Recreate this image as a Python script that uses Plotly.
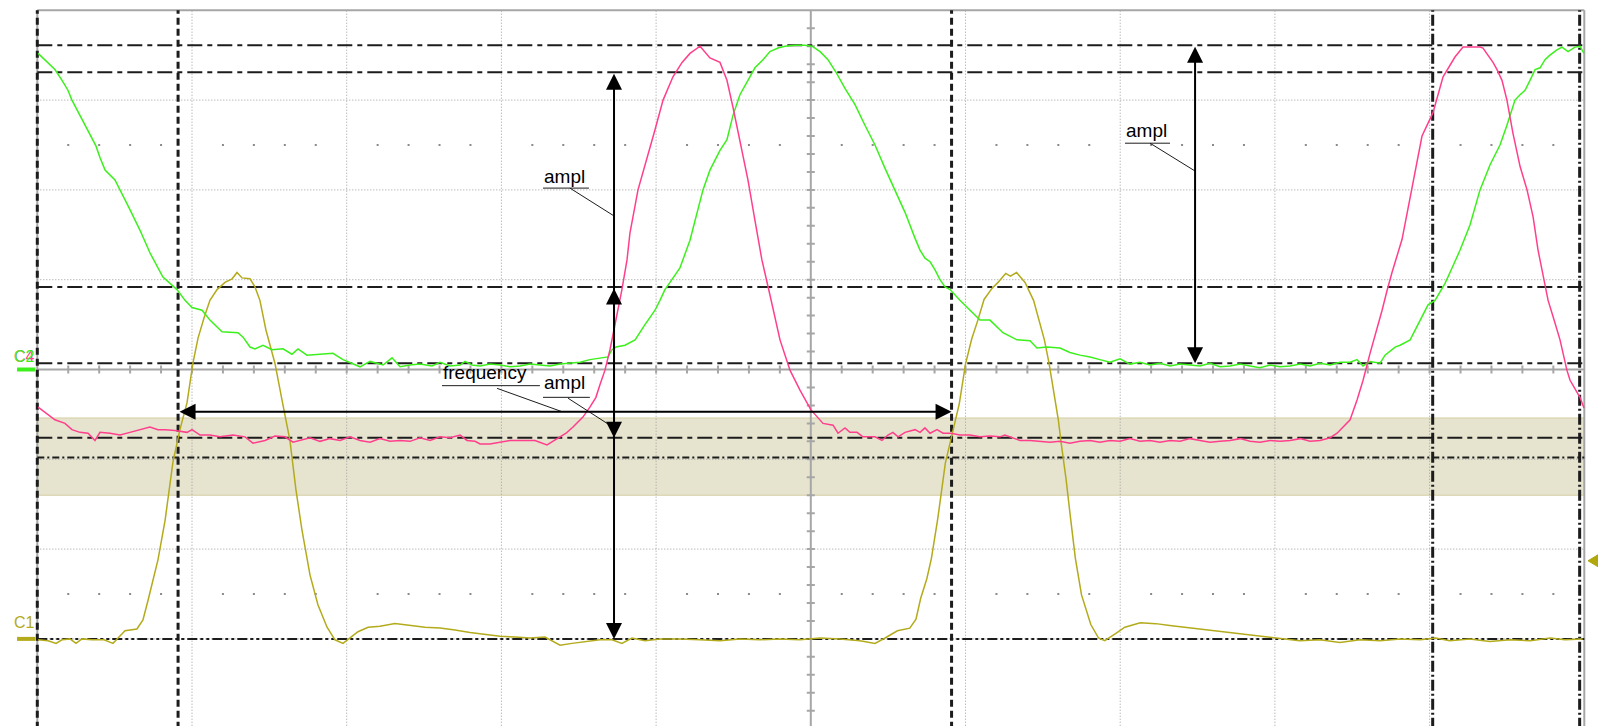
import plotly.graph_objects as go

# ---------------------------------------------------------------
# Scope screen: 10 x 8 divisions. Time and amplitude are given in
# divisions (x: 0..10, y: -4..+4, centre line at 0).
# ---------------------------------------------------------------

# C1 (yellow)
c1_t = [0.005, 0.069, 0.121, 0.160, 0.211, 0.250, 0.289, 0.354, 0.431, 0.489, 0.522, 0.567, 0.644, 0.683,
        0.716, 0.748, 0.780, 0.826, 0.877, 0.922, 0.968, 1.006, 1.039, 1.077, 1.116, 1.162, 1.213, 1.259,
        1.291, 1.323, 1.375, 1.407, 1.439, 1.478, 1.504, 1.536, 1.582, 1.633, 1.672, 1.711, 1.763, 1.814,
        1.873, 1.924, 1.976, 2.021, 2.073, 2.138, 2.215, 2.312, 2.409, 2.506, 2.603, 2.700, 2.797, 2.894,
        2.991, 3.088, 3.185, 3.282, 3.379, 3.456, 3.540, 3.637, 3.715, 3.779, 3.844, 3.928, 4.025, 4.154,
        4.284, 4.413, 4.542, 4.672, 4.801, 4.930, 5.060, 5.189, 5.318, 5.415, 5.480, 5.56, 5.64, 5.68,
        5.71, 5.75, 5.78, 5.82, 5.87, 5.92, 5.96, 6.00, 6.04, 6.08, 6.12, 6.17, 6.21, 6.26, 6.29, 6.33,
        6.385, 6.44, 6.48, 6.51, 6.54, 6.57, 6.60, 6.62, 6.65, 6.68, 6.71, 6.75, 6.81, 6.86, 6.90, 6.97,
        7.03, 7.13, 7.23, 7.32, 7.42, 7.52, 7.61, 7.71, 7.81, 7.90, 8.03, 8.16, 8.29, 8.42, 8.55, 8.68,
        8.81, 8.94, 9.04, 9.13, 9.26, 9.39, 9.52, 9.65, 9.78, 9.875, 9.99]
c1_v = [-3.01, -3.02, -3.05, -3.01, -3.00, -3.05, -3.00, -3.01, -3.01, -3.05, -2.99, -2.91, -2.89, -2.79,
        -2.57, -2.34, -2.12, -1.68, -1.03, -0.67, -0.37, 0.07, 0.35, 0.57, 0.77, 0.89, 0.97, 1.01,
        1.08, 1.02, 1.01, 0.92, 0.77, 0.44, 0.27, 0.07, -0.34, -0.79, -1.34, -1.79, -2.29, -2.62,
        -2.87, -3.01, -3.05, -2.99, -2.92, -2.87, -2.86, -2.83, -2.85, -2.87, -2.88, -2.90, -2.93, -2.95,
        -2.97, -2.98, -2.99, -2.98, -3.07, -3.05, -3.03, -3.01, -3.01, -3.05, -2.99, -3.02, -3.00, -3.00,
        -3.01, -3.02, -3.00, -3.01, -3.00, -3.01, -2.99, -3.00, -3.02, -3.05, -2.99, -2.91, -2.88, -2.78,
        -2.55, -2.33, -2.10, -1.67, -1.04, -0.66, -0.38, 0.06, 0.34, 0.55, 0.78, 0.90, 0.97, 1.07, 1.04, 1.08,
        0.97, 0.77, 0.53, 0.33, 0.07, -0.23, -0.56, -0.84, -1.22, -1.67, -2.10, -2.51, -2.84, -2.99, -3.02, -2.94,
        -2.87, -2.82, -2.83, -2.85, -2.87, -2.89, -2.91, -2.93, -2.95, -2.97, -3.00, -3.02, -3.01, -3.04, -3.01, -3.02,
        -3.00, -3.01, -2.99, -3.02, -3.00, -3.03, -3.01, -3.02, -2.99, -3.01, -3.00]

# C2 (green)
c2_t = [0.005, 0.069, 0.114, 0.160, 0.198, 0.224, 0.276, 0.328, 0.379, 0.405, 0.438, 0.502, 0.535, 0.599,
        0.664, 0.728, 0.812, 0.903, 0.955, 1.000, 1.065, 1.116, 1.194, 1.297, 1.330, 1.375, 1.407, 1.459,
        1.517, 1.588, 1.646, 1.685, 1.743, 1.827, 1.911, 1.976, 2.086, 2.151, 2.235, 2.293, 2.345, 2.409,
        2.474, 2.551, 2.603, 2.668, 2.733, 2.765, 2.810, 2.862, 2.926, 2.991, 3.056, 3.120, 3.185, 3.249,
        3.314, 3.379, 3.443, 3.508, 3.572, 3.637, 3.689, 3.715, 3.741, 3.799, 3.864, 3.928, 3.993, 4.025,
        4.057, 4.090, 4.122, 4.154, 4.219, 4.264, 4.303, 4.348, 4.413, 4.458, 4.497, 4.542, 4.594, 4.639,
        4.691, 4.736, 4.788, 4.833, 4.898, 4.962, 5.008, 5.060, 5.111, 5.163, 5.221, 5.286, 5.350, 5.415,
        5.480, 5.544, 5.609, 5.674, 5.706, 5.738, 5.771, 5.803, 5.835, 5.868, 5.900, 5.964, 6.029, 6.094,
        6.158, 6.242, 6.333, 6.417, 6.462, 6.527, 6.611, 6.675, 6.740, 6.805, 6.869, 6.934, 6.999, 7.063,
        7.128, 7.193, 7.257, 7.322, 7.387, 7.451, 7.516, 7.581, 7.645, 7.710, 7.775, 7.839, 7.904, 7.969,
        8.033, 8.098, 8.163, 8.227, 8.292, 8.357, 8.421, 8.486, 8.531, 8.570, 8.615, 8.680, 8.712, 8.777,
        8.809, 8.874, 8.938, 8.990, 9.035, 9.100, 9.145, 9.197, 9.261, 9.326, 9.391, 9.455, 9.500, 9.552,
        9.585, 9.617, 9.649, 9.682, 9.714, 9.746, 9.778, 9.823, 9.856, 9.895, 9.940, 9.972, 9.998]
c2_v = [3.52, 3.42, 3.34, 3.22, 3.11, 3.00, 2.83, 2.67, 2.49, 2.36, 2.22, 2.11, 2.00, 1.78,
        1.55, 1.30, 1.03, 0.89, 0.77, 0.69, 0.66, 0.55, 0.42, 0.41, 0.36, 0.25, 0.23, 0.27,
        0.22, 0.23, 0.17, 0.23, 0.16, 0.17, 0.18, 0.11, 0.03, 0.09, 0.05, 0.13, 0.03, 0.05,
        0.06, 0.04, 0.08, 0.04, 0.05, 0.09, 0.05, 0.04, 0.06, 0.05, 0.03, 0.04, 0.06, 0.05,
        0.04, 0.06, 0.07, 0.08, 0.11, 0.13, 0.14, 0.22, 0.25, 0.27, 0.33, 0.50, 0.66, 0.77,
        0.89, 0.97, 1.05, 1.13, 1.44, 1.75, 2.00, 2.22, 2.44, 2.56, 2.83, 3.06, 3.22, 3.36,
        3.45, 3.54, 3.58, 3.60, 3.61, 3.61, 3.60, 3.54, 3.45, 3.31, 3.13, 2.95, 2.72, 2.50,
        2.24, 2.00, 1.75, 1.46, 1.33, 1.24, 1.20, 1.11, 1.00, 0.92, 0.89, 0.77, 0.66, 0.55,
        0.55, 0.41, 0.33, 0.32, 0.24, 0.25, 0.24, 0.19, 0.16, 0.14, 0.11, 0.08, 0.12, 0.06,
        0.08, 0.05, 0.07, 0.04, 0.06, 0.05, 0.04, 0.07, 0.03, 0.04, 0.06, 0.04, 0.02, 0.05,
        0.03, 0.04, 0.06, 0.04, 0.07, 0.05, 0.08, 0.08, 0.11, 0.04, 0.09, 0.07, 0.16, 0.25,
        0.27, 0.33, 0.55, 0.72, 0.77, 0.96, 1.13, 1.33, 1.61, 2.00, 2.28, 2.50, 2.72, 3.00,
        3.06, 3.11, 3.22, 3.34, 3.36, 3.45, 3.50, 3.56, 3.59, 3.54, 3.59, 3.60, 3.52]

# C4 (pink)
c4_t = [0.005, 0.050, 0.114, 0.179, 0.224, 0.276, 0.328, 0.373, 0.405, 0.470, 0.535, 0.599, 0.664, 0.728,
        0.780, 0.826, 0.890, 0.968, 1.000, 1.052, 1.116, 1.181, 1.265, 1.343, 1.394, 1.472, 1.536, 1.601,
        1.653, 1.698, 1.763, 1.827, 1.892, 1.957, 2.021, 2.086, 2.151, 2.215, 2.280, 2.345, 2.409, 2.474,
        2.539, 2.603, 2.668, 2.733, 2.778, 2.830, 2.862, 2.926, 2.991, 3.056, 3.120, 3.217, 3.295, 3.346,
        3.379, 3.418, 3.463, 3.527, 3.572, 3.611, 3.637, 3.669, 3.702, 3.728, 3.747, 3.779, 3.812, 3.831,
        3.883, 3.941, 3.993, 4.045, 4.109, 4.168, 4.219, 4.284, 4.348, 4.413, 4.458, 4.497, 4.542, 4.594,
        4.639, 4.684, 4.736, 4.775, 4.801, 4.866, 4.930, 5.001, 5.046, 5.079, 5.144, 5.176, 5.221, 5.253,
        5.299, 5.337, 5.415, 5.460, 5.499, 5.531, 5.564, 5.609, 5.674, 5.706, 5.738, 5.771, 5.816, 5.855,
        5.906, 5.964, 6.029, 6.094, 6.158, 6.223, 6.255, 6.288, 6.352, 6.417, 6.482, 6.546, 6.611, 6.675,
        6.740, 6.805, 6.869, 6.934, 6.999, 7.063, 7.128, 7.193, 7.257, 7.322, 7.387, 7.451, 7.516, 7.581,
        7.645, 7.710, 7.775, 7.839, 7.904, 7.969, 8.033, 8.098, 8.163, 8.227, 8.292, 8.357, 8.402, 8.441,
        8.486, 8.531, 8.570, 8.615, 8.660, 8.693, 8.725, 8.757, 8.822, 8.886, 8.951, 9.022, 9.067, 9.087,
        9.164, 9.216, 9.326, 9.345, 9.410, 9.436, 9.468, 9.500, 9.539, 9.585, 9.630, 9.669, 9.701, 9.766,
        9.798, 9.843, 9.888, 9.908, 9.972, 9.998]
c4_v = [-0.42, -0.48, -0.56, -0.60, -0.67, -0.70, -0.71, -0.79, -0.70, -0.71, -0.73, -0.70, -0.67, -0.64,
        -0.67, -0.67, -0.68, -0.70, -0.67, -0.73, -0.73, -0.75, -0.73, -0.75, -0.82, -0.79, -0.74, -0.75,
        -0.81, -0.79, -0.76, -0.80, -0.77, -0.79, -0.75, -0.79, -0.81, -0.77, -0.80, -0.79, -0.80, -0.76,
        -0.79, -0.75, -0.76, -0.73, -0.79, -0.80, -0.83, -0.83, -0.81, -0.79, -0.79, -0.79, -0.84, -0.79,
        -0.75, -0.71, -0.64, -0.53, -0.42, -0.31, -0.17, -0.01, 0.22, 0.44, 0.61, 0.89, 1.22, 1.52,
        2.00, 2.37, 2.67, 3.00, 3.26, 3.42, 3.52, 3.60, 3.47, 3.42, 3.22, 2.92, 2.56, 2.11,
        1.66, 1.22, 0.83, 0.55, 0.33, -0.01, -0.23, -0.45, -0.54, -0.60, -0.62, -0.71, -0.65, -0.70,
        -0.70, -0.75, -0.75, -0.79, -0.73, -0.70, -0.75, -0.70, -0.67, -0.70, -0.65, -0.71, -0.67, -0.71,
        -0.71, -0.73, -0.73, -0.75, -0.74, -0.75, -0.73, -0.75, -0.79, -0.79, -0.80, -0.81, -0.80, -0.82,
        -0.80, -0.79, -0.81, -0.79, -0.80, -0.77, -0.80, -0.79, -0.81, -0.79, -0.80, -0.77, -0.79, -0.81,
        -0.80, -0.79, -0.77, -0.80, -0.81, -0.79, -0.80, -0.79, -0.77, -0.80, -0.79, -0.76, -0.71, -0.64,
        -0.56, -0.34, -0.12, 0.18, 0.45, 0.66, 0.88, 1.08, 1.45, 2.00, 2.60, 2.86, 3.15, 3.26,
        3.48, 3.59, 3.59, 3.58, 3.42, 3.34, 3.22, 3.00, 2.63, 2.26, 2.00, 1.70, 1.33, 0.77,
        0.59, 0.33, -0.01, -0.12, -0.31, -0.43]

# Measurement cursors
h_cursors = [3.61, 3.31, 0.92, 0.07, -0.76]     # long dash-dot
h_cursor_fine = -0.98                            # dash-dot
c1_level = -3.0
v_cursors_short = [0.0, 0.91, 5.91]
v_cursors_long = [9.02, 9.97]
band_top, band_bottom = -0.54, -1.40

# Measurement arrows: (x0, y0, x1, y1)
ampl_arrows = [(3.728, 0.92, 3.728, -3.0), (3.728, 3.31, 3.728, -0.76), (7.484, 3.61, 7.484, 0.07)]
freq_arrow = (0.91, -0.47, 5.91, -0.47)

# Screen colours
GRID = "#9c9c9c"
AXIS = "#a6a6a6"
INK = "#1c1c1c"
YEL = "#b3ab1c"
GRN = "#3cf01c"
PNK = "#ff3f8c"

XMIN, XMAX = -0.2411, 10.0886
YMIN, YMAX = -3.970, 4.1147

fig = go.Figure()
shapes = []

# shaded band
shapes.append(dict(type="rect", x0=0, x1=10, y0=band_bottom, y1=band_top, layer="below",
                   fillcolor="#e6e4cf", line=dict(color="#d3cea2", width=1)))

# dotted graticule
for k in range(1, 10):
    if k != 5:
        shapes.append(dict(type="line", x0=k, x1=k, y0=-4, y1=4, layer="below",
                           line=dict(color=GRID, width=1, dash="1px,2px")))
for k in range(-3, 4):
    if k != 0:
        shapes.append(dict(type="line", x0=0, x1=10, y0=k, y1=k, layer="below",
                           line=dict(color=GRID, width=1, dash="1px,2px")))

# centre axes with minor ticks
shapes.append(dict(type="line", x0=0, x1=10, y0=0, y1=0, layer="below", line=dict(color=AXIS, width=2)))
shapes.append(dict(type="line", x0=5, x1=5, y0=-4, y1=4, layer="below", line=dict(color=AXIS, width=2)))
tick_path = []
for k in range(1, 50):
    x = k * 0.2
    tick_path.append(f"M{x:.3f},-0.045 L{x:.3f},0.045")
for k in range(-19, 20):
    if k != 0:
        y = k * 0.2
        tick_path.append(f"M4.974,{y:.3f} L5.026,{y:.3f}")
shapes.append(dict(type="path", path=" ".join(tick_path), layer="below", line=dict(color=AXIS, width=2)))

# screen border
shapes.append(dict(type="line", x0=0, x1=10, y0=4, y1=4, layer="below", line=dict(color=AXIS, width=2)))
shapes.append(dict(type="line", x0=0, x1=0, y0=-4, y1=4, layer="below", line=dict(color=AXIS, width=2)))
shapes.append(dict(type="line", x0=10, x1=10, y0=-4, y1=4, layer="below", line=dict(color=AXIS, width=2)))

# cursors
for yv in h_cursors:
    shapes.append(dict(type="line", x0=0, x1=10, y0=yv, y1=yv, layer="below",
                       line=dict(color=INK, width=2, dash="15px,5px,5px,5px")))
shapes.append(dict(type="line", x0=0, x1=10, y0=h_cursor_fine, y1=h_cursor_fine, layer="below",
                   line=dict(color=INK, width=2, dash="7px,3px,2px,3px")))
shapes.append(dict(type="line", x0=0, x1=10, y0=c1_level, y1=c1_level, layer="below",
                   line=dict(color=INK, width=2, dash="10px,3px,3px,3px,3px,3px")))
for xv in v_cursors_short:
    shapes.append(dict(type="line", x0=xv, x1=xv, y0=-4, y1=4, layer="below",
                       line=dict(color=INK, width=3, dash="7px,4px")))
for xv in v_cursors_long:
    shapes.append(dict(type="line", x0=xv, x1=xv, y0=-4, y1=4, layer="below",
                       line=dict(color=INK, width=3, dash="11px,3px,2px,3px")))

# channel markers on the left edge and trigger marker on the right
shapes.append(dict(type="line", x0=-0.131, x1=-0.012, y0=0, y1=0, line=dict(color=GRN, width=4)))
shapes.append(dict(type="line", x0=-0.131, x1=-0.012, y0=c1_level, y1=c1_level, line=dict(color=YEL, width=4)))
shapes.append(dict(type="path", path="M10.024,-2.13 L10.089,-2.063 L10.089,-2.197 Z",
                   fillcolor="#b0a80c", line=dict(color="#b0a80c", width=1)))

# label leader lines and underlines
leaders = [
    (3.443, 2.02, 3.728, 1.71), (3.269, 2.02, 3.566, 2.02),
    (7.193, 2.52, 7.484, 2.21), (7.031, 2.52, 7.322, 2.52),
    (2.972, -0.21, 3.392, -0.47), (2.616, -0.18, 3.249, -0.18),
    (3.431, -0.32, 3.728, -0.65), (3.269, -0.31, 3.572, -0.31),
]
for x0, y0, x1, y1 in leaders:
    shapes.append(dict(type="line", x0=x0, x1=x1, y0=y0, y1=y1, line=dict(color=INK, width=1)))

# minor graticule dots
dot_x, dot_y = [], []
for yv in (2.5, -2.5):
    for k in range(1, 50):
        if k % 5:
            dot_x.append(k * 0.2)
            dot_y.append(yv)
fig.add_trace(go.Scatter(x=dot_x, y=dot_y, mode="markers", hoverinfo="skip",
                         marker=dict(symbol="square", size=2, color="#8a8a8a", line=dict(width=0))))

# waveforms
fig.add_trace(go.Scatter(x=c1_t, y=c1_v, mode="lines", line=dict(color=YEL, width=1.5), hoverinfo="skip"))
fig.add_trace(go.Scatter(x=c2_t, y=c2_v, mode="lines", line=dict(color=GRN, width=1.5), hoverinfo="skip"))
fig.add_trace(go.Scatter(x=c4_t, y=c4_v, mode="lines", line=dict(color=PNK, width=1.5), hoverinfo="skip"))

annotations = []
for x0, y0, x1, y1 in ampl_arrows + [freq_arrow]:
    annotations.append(dict(x=x1, y=y1, ax=x0, ay=y0, xref="x", yref="y", axref="x", ayref="y",
                            text="", showarrow=True, arrowhead=2, startarrowhead=2,
                            arrowsize=1.6, startarrowsize=1.6, arrowwidth=2,
                            arrowcolor="#000000", arrowside="end+start"))

label_font = dict(family="Liberation Sans, Arial, sans-serif", size=19, color="#000000")
for txt, x, y in [("ampl", 3.262, 2.15), ("ampl", 7.024, 2.667), ("frequency", 2.609, -0.03),
                  ("ampl", 3.262, -0.15)]:
    annotations.append(dict(x=x, y=y, xref="x", yref="y", text=txt, showarrow=False,
                            xanchor="left", yanchor="middle", font=label_font))

ch_font = dict(family="Liberation Sans, Arial, sans-serif", size=16)
annotations.append(dict(x=-0.165, y=0.15, xref="x", yref="y", text="C4", showarrow=False,
                        xanchor="left", yanchor="middle", font=dict(ch_font, color=PNK)))
annotations.append(dict(x=-0.165, y=0.15, xref="x", yref="y", text="C2", showarrow=False,
                        xanchor="left", yanchor="middle", font=dict(ch_font, color=GRN)))
annotations.append(dict(x=-0.165, y=-2.82, xref="x", yref="y", text="C1", showarrow=False,
                        xanchor="left", yanchor="middle", font=dict(ch_font, color=YEL)))

fig.update_layout(
    width=1598, height=726,
    margin=dict(l=0, r=0, t=0, b=0),
    paper_bgcolor="#ffffff", plot_bgcolor="#ffffff",
    showlegend=False,
    xaxis=dict(range=[XMIN, XMAX], visible=False, fixedrange=True),
    yaxis=dict(range=[YMIN, YMAX], visible=False, fixedrange=True),
    shapes=shapes,
    annotations=annotations,
)

fig.write_html("out.html")
